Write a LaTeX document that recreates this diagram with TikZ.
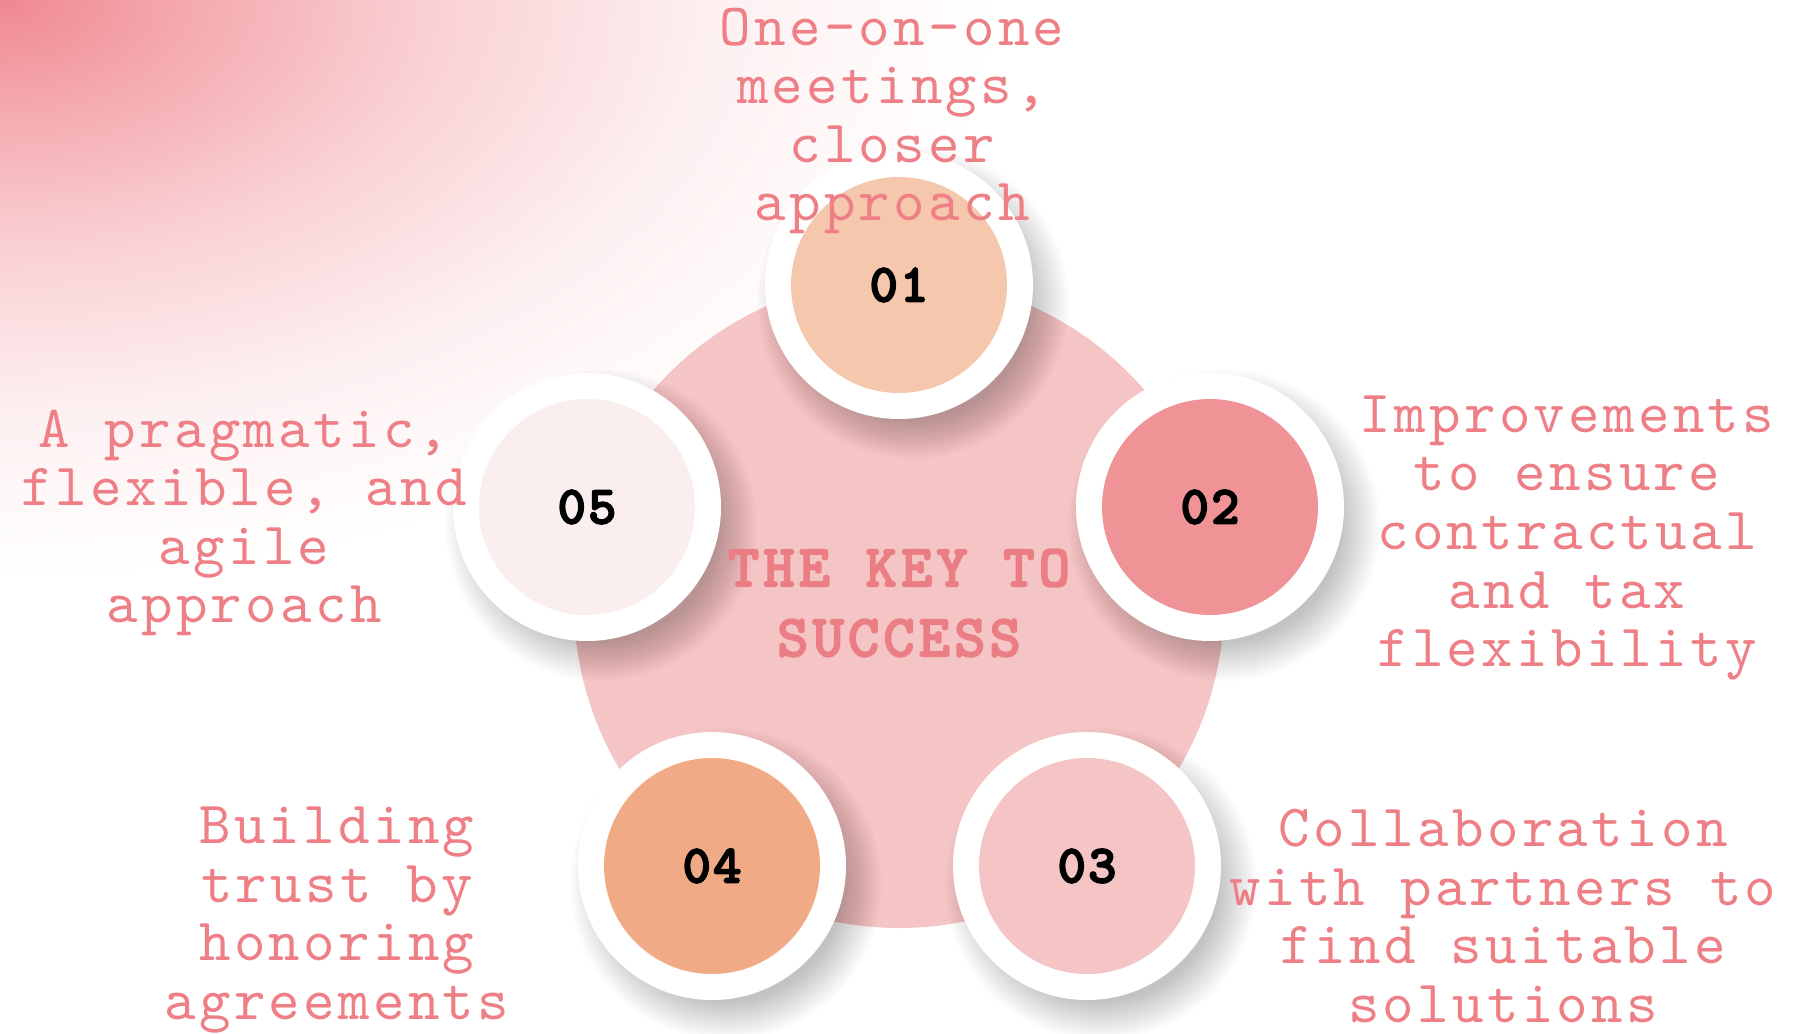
\documentclass[tikz,border=0pt]{standalone}
\usepackage{fontspec}
\newfontfamily\lmono[LetterSpace=5.5]{lmmono10-regular.otf}
\newfontfamily\lmonob[LetterSpace=4,FakeBold=3]{lmmonolt10-bold.otf}
\newfontfamily\lmonot[LetterSpace=6.5,FakeBold=2.5]{lmmonolt10-bold.otf}
\definecolor{bgpk}{HTML}{F08890}
\definecolor{bigc}{HTML}{F5C4C4}
\definecolor{cA}{HTML}{F5C7AC}
\definecolor{cB}{HTML}{F09396}
\definecolor{cC}{HTML}{F5C4C4}
\definecolor{cD}{HTML}{F1AA86}
\definecolor{cE}{HTML}{FAEEEE}
\definecolor{txtpk}{HTML}{EF7F86}
\definecolor{ttlpk}{HTML}{EA7E84}
\pgfdeclareradialshading{bgfade}{\pgfpoint{0bp}{0bp}}{color(0bp)=(bgpk); color(5bp)=(bgpk!70!white); color(11bp)=(bgpk!38!white); color(18bp)=(bgpk!12!white); color(25bp)=(white); color(50bp)=(white)}
\tikzset{
  numc/.style={circle, minimum size=216pt, inner sep=0pt, font=\lmonob\fontsize{54}{54}\selectfont, text=black},
  lbl/.style={align=center, font=\lmono\fontsize{60}{58.6}\selectfont, text=txtpk, inner sep=0pt},
  ttl/.style={align=center, font=\lmonot\fontsize{60}{70}\selectfont, text=ttlpk, inner sep=0pt}
}
\newcommand{\ringshadow}[2]{%
  \foreach \k in {0,...,19} {\fill[black, opacity=0.01] (#1+14,#2+18) circle[radius=134+22-2*\k];}%
  \fill[white] (#1,#2) circle[radius=134];}
\begin{document}
\begin{tikzpicture}[x=1pt,y=-1pt]
\useasboundingbox (0,0) rectangle (1793,1033);
\fill[white] (0,0) rectangle (1793,1033);
\begin{scope}
\clip (0,0) rectangle (1793,1033);
\shade[shading=bgfade] (0,0) ellipse [x radius=1000, y radius=580];
\fill[bigc] (899,603) circle[radius=325];
\ringshadow{899}{285}
\ringshadow{1210}{507}
\ringshadow{1087}{866}
\ringshadow{712}{866}
\ringshadow{587}{507}
\node[numc, fill=cA] (n1) at (899,285) {01};
\node[numc, fill=cB] (n2) at (1210,507) {02};
\node[numc, fill=cC] (n3) at (1087,866) {03};
\node[numc, fill=cD] (n4) at (712,866) {04};
\node[numc, fill=cE] (n5) at (587,507) {05};
\node[ttl] (t) at (899,603) {THE KEY TO\\SUCCESS};
\node[lbl] (l1) at (892,121) {One-on-one\\meetings,\\closer\\approach};
\node[lbl] (l2) at (1567,538) {Improvements\\to ensure\\contractual\\and tax\\flexibility};
\node[lbl] (l3) at (1503,916) {Collaboration\\with partners to\\find suitable\\solutions};
\node[lbl] (l4) at (337,920) {Building\\trust by\\honoring\\agreements};
\node[lbl] (l5) at (244,523) {A pragmatic,\\flexible, and\\agile\\approach};
\end{scope}
\end{tikzpicture}
\end{document}
